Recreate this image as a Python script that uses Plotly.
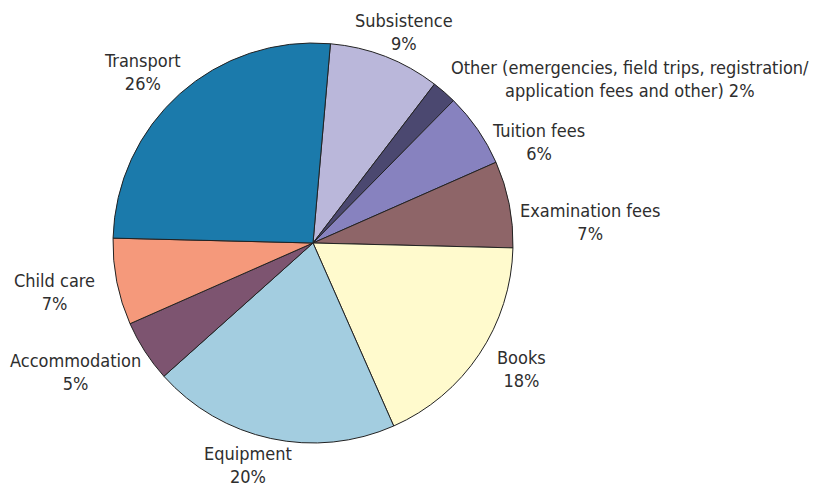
import plotly.graph_objects as go

# Share of spending by category (percent), listed clockwise from the top
categories = [
    "Subsistence",
    "Other (emergencies, field trips, registration/<br>application fees and other)",
    "Tuition fees",
    "Examination fees",
    "Books",
    "Equipment",
    "Accommodation",
    "Child care",
    "Transport",
]
shares = [9, 2, 6, 7, 18, 20, 5, 7, 26]
colors = ["#bab7da", "#4b4870", "#8782bf", "#8e6568", "#fffacd",
          "#a3cde0", "#7d5470", "#f5997b", "#1b7aab"]

# Label anchor points (pixels from top-left) for each category
label_pos = [
    (404, 32), (630, 79), (538, 142), (590, 222), (521, 369),
    (248, 465), (75, 372), (54, 292), (142, 72),
]

W, H = 817, 489
cx0, cx1 = 113, 513
cy0, cy1 = 43, 443

fig = go.Figure(go.Pie(
    labels=categories,
    values=shares,
    sort=False,
    direction="clockwise",
    rotation=5,
    marker=dict(colors=colors, line=dict(color="#222222", width=1)),
    textinfo="none",
    hoverinfo="label+percent",
    showlegend=False,
    domain=dict(x=[cx0 / W, cx1 / W], y=[1 - cy1 / H, 1 - cy0 / H]),
))

annotations = []
for name, val, (px, py) in zip(categories, shares, label_pos):
    if "<br>" in name:
        text = f"{name} {val}%"
    else:
        text = f"{name}<br>{val}%"
    annotations.append(dict(
        x=px / W, y=1 - py / H, xref="paper", yref="paper",
        text=text, showarrow=False, xanchor="center", yanchor="middle",
        align="center",
        font=dict(family="Liberation Sans Narrow, Arial Narrow, DejaVu Sans Condensed, sans-serif",
                  size=18, color="#2e2e2e"),
    ))

fig.update_layout(
    width=W, height=H,
    margin=dict(l=0, r=0, t=0, b=0),
    paper_bgcolor="white",
    plot_bgcolor="white",
    annotations=annotations,
)

fig.write_html("out.html")
